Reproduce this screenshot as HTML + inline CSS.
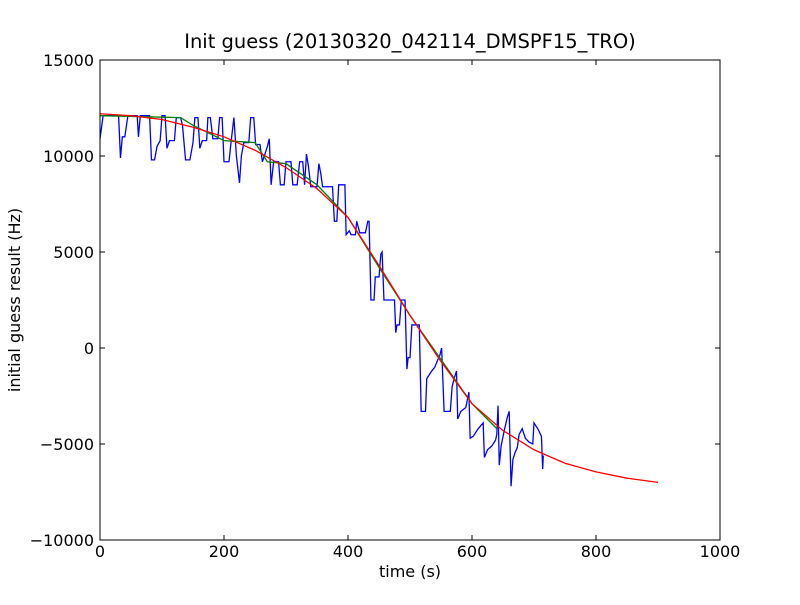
<!DOCTYPE html>
<html><head><meta charset="utf-8"><style>
body{margin:0;background:#fff;font-family:"Liberation Sans","DejaVu Sans",sans-serif}
svg text{font-family:"DejaVu Sans","Liberation Sans",sans-serif}
</style></head><body>
<svg id="chart" width="800" height="600" xmlns="http://www.w3.org/2000/svg">
<rect width="800" height="600" fill="#fff"/>
<text x="410" y="48" font-size="19.5" text-anchor="middle">Init guess (20130320_042114_DMSPF15_TRO)</text>
<text x="410" y="577" font-size="16" text-anchor="middle">time (s)</text>
<text transform="translate(20,300) rotate(-90)" font-size="16" text-anchor="middle">initial guess result (Hz)</text>
<g id="plot"></g>
<rect x="100" y="60" width="620" height="480" fill="none" stroke="#000" stroke-width="1"/>
</svg>
<script>
const xTicks=[0,200,400,600,800,1000];
const yTicks=[-10000,-5000,0,5000,10000,15000];
const blueT=[0,5,30,33,36,40,45,60,62,65,80,83,88,92,97,100,105,108,112,120,123,130,133,138,145,150,153,158,161,165,172,174,178,182,190,193,197,200,208,212,216,220,225,228,232,240,243,248,251,258,262,270,273,276,280,288,291,297,300,308,311,318,322,327,330,333,336,340,350,353,356,359,375,378,382,385,395,397,402,405,412,414,419,428,432,434,437,442,444,450,453,455,458,475,477,479,483,486,492,495,497,500,503,515,518,525,527,535,540,545,548,551,555,565,568,572,575,577,582,590,595,597,602,610,618,620,625,632,638,640,642,644,647,652,657,660,663,666,670,673,676,681,686,692,698,700,706,712,714,715];
const blueV=[10900,12100,12100,9900,11000,11000,12100,12100,11000,12100,12100,9800,9800,10500,10800,12100,12100,10400,10800,10800,12000,12000,11600,9800,9800,10700,12000,12000,10400,10800,10800,12000,12000,10900,10900,12000,12000,9700,9700,10900,12000,10000,8600,10000,10700,10700,12000,12000,10600,10600,9700,10500,10900,8500,9700,9700,8500,8500,9700,9700,8500,8500,9700,9700,8500,10100,9500,8400,8400,9600,9100,8400,8400,6600,6600,8500,8500,5900,6100,5900,5900,6600,6000,6000,6600,6600,2500,2500,3700,3700,4900,5000,2500,2500,800,1200,1200,2500,2500,-1100,-500,-500,1200,1200,-3300,-3300,-1600,-1200,-1000,-600,-400,0,-3300,-3300,-2000,-1500,-1200,-3700,-3300,-3100,-2300,-4700,-4600,-4200,-3900,-5700,-5300,-5100,-4800,-4500,-3000,-6100,-5100,-4300,-3600,-3300,-7200,-5800,-5400,-5200,-4500,-4200,-4700,-4900,-5000,-3900,-4200,-4600,-6300,-5600];
const greenT=[0,130,150,200,250,270,300,350,400,450,500,550,600,640];
const greenV=[12100,12000,11600,10800,10700,9700,9600,8500,6800,4200,1700,-600,-2900,-4200];
const redT=[0,50,100,150,200,250,300,350,400,450,500,550,600,650,700,750,800,850,900];
const redV=[12200,12100,11900,11500,11000,10300,9400,8300,6800,4300,1700,-700,-2900,-4300,-5300,-6000,-6450,-6780,-7000];
const X=t=>100+t*0.62, Y=v=>348-v*0.0192;
const NS="http://www.w3.org/2000/svg";
const g=document.getElementById('plot');
xTicks.forEach(t=>{
 const l=document.createElementNS(NS,'path');
 l.setAttribute('d',`M${X(t)},540V535M${X(t)},60V65`);l.setAttribute('stroke','#000');
 
 
 g.appendChild(l);
 const s=document.createElementNS(NS,'text');
 s.setAttribute('x',X(t));s.setAttribute('y',557);s.setAttribute('font-size','16');s.setAttribute('text-anchor','middle');
 s.textContent=t;
 
 
 g.appendChild(s);
});
yTicks.forEach(v=>{
 const l=document.createElementNS(NS,'path');
 l.setAttribute('d',`M100,${Y(v)}H105M720,${Y(v)}H715`);l.setAttribute('stroke','#000');
 
 
 g.appendChild(l);
 const s=document.createElementNS(NS,'text');
 s.setAttribute('x',94);s.setAttribute('y',Y(v)+6);s.setAttribute('font-size','16');s.setAttribute('text-anchor','end');
 s.textContent=v<0?'\u2212'+(-v):v;
 
 
 g.appendChild(s);
});
function line(T,V,c,name){
 const p=document.createElementNS(NS,'polyline');
 p.setAttribute('points',T.map((t,i)=>X(t)+','+Y(V[i])).join(' '));
 p.setAttribute('fill','none');p.setAttribute('stroke',c);p.setAttribute('stroke-width','1.3');
 
 
 g.appendChild(p);
}
line(blueT,blueV,'#0000ff','raw-guess-line');
line(greenT,greenV,'#008000','smoothed-line');
line(redT,redV,'#ff0000','fit-line');
</script>
</body></html>
